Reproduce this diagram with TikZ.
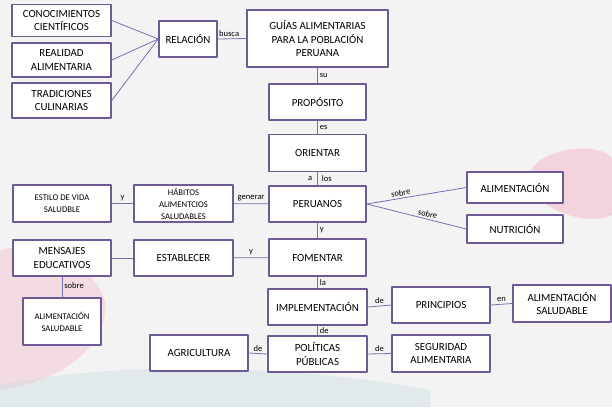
\documentclass[tikz,border=0pt]{standalone}
\usepackage{fontspec}
\setmainfont{Carlito}
\usepackage{xcolor}
\usetikzlibrary{positioning}

\definecolor{boxc}{HTML}{6E5A96}
\definecolor{linkc}{HTML}{7472A8}
\definecolor{bgc}{HTML}{F3F3F4}
\definecolor{pinkc}{HTML}{F4B9C9}
\definecolor{tealc}{HTML}{C6DADC}

\tikzset{
  box/.style={draw=boxc, line width=1.5pt, fill=white, align=center, inner sep=1pt,
    font=\fontsize{10.9}{13.5}\selectfont},
  smallbox/.style={box, font=\fontsize{8.7}{12}\selectfont},
  link/.style={draw=linkc, line width=0.8pt},
  lbl/.style={inner sep=2pt, font=\fontsize{8.5}{10}\selectfont}
}

\begin{document}
\begin{tikzpicture}[x=1pt,y=-1pt,line join=round]
\useasboundingbox (0,0) rectangle (612,407);
% background
\fill[bgc] (0,0) rectangle (612,407);
\fill[pinkc,opacity=0.55] (540,160) .. controls (575,140) and (612,150) .. (612,160)
  -- (612,215) .. controls (590,225) and (555,215) .. (535,195) .. controls (525,180) and (530,168) .. (540,160) -- cycle;
\fill[pinkc,opacity=0.4] (0,250) .. controls (40,240) and (90,260) .. (105,300)
  .. controls (110,340) and (70,380) .. (0,390) -- cycle;
\fill[tealc,opacity=0.4] (0,385) .. controls (120,360) and (300,365) .. (430,390)
  -- (430,407) -- (0,407) -- cycle;

% nodes
\node[box, minimum width=99, minimum height=32] (conoc) at (61.5,20.5) {CONOCIMIENTOS\\CIENTÍFICOS};
\node[box, minimum width=99, minimum height=34] (realidad) at (61.5,60) {REALIDAD\\ALIMENTARIA};
\node[box, minimum width=99, minimum height=35] (tradic) at (61.5,100.5) {TRADICIONES\\CULINARIAS};
\node[box, minimum width=58, minimum height=36] (relacion) at (188,39) {RELACIÓN};
\node[box, minimum width=141, minimum height=57] (guias) at (317.5,38.5) {GUÍAS ALIMENTARIAS\\PARA LA POBLACIÓN\\PERUANA};
\node[box, minimum width=97, minimum height=36] (proposito) at (317.5,102) {PROPÓSITO};
\node[box, minimum width=97, minimum height=37] (orientar) at (317.5,153) {ORIENTAR};
\node[box, minimum width=97, minimum height=36] (peruanos) at (317.5,204) {PERUANOS};
\node[box, minimum width=97, minimum height=37] (fomentar) at (317.5,257.5) {FOMENTAR};
\node[box, minimum width=99, minimum height=36] (implem) at (317.5,307) {IMPLEMENTACIÓN};
\node[box, minimum width=99, minimum height=36] (politicas) at (317.5,354) {POLÍTICAS\\PÚBLICAS};
\node[box, minimum width=98, minimum height=36] (principios) at (441,305) {PRINCIPIOS};
\node[box, minimum width=98, minimum height=37] (alimsalb) at (562,303.5) {ALIMENTACIÓN\\SALUDABLE};
\node[box, minimum width=98, minimum height=37] (seguridad) at (441,353.5) {SEGURIDAD\\ALIMENTARIA};
\node[box, minimum width=98, minimum height=36] (agricultura) at (199,353) {AGRICULTURA};
\node[smallbox, minimum width=78, minimum height=47] (alimsala) at (62,321.5) {ALIMENTACIÓN\\SALUDABLE};
\node[box, minimum width=98, minimum height=36] (mensajes) at (62,258) {MENSAJES\\EDUCATIVOS};
\node[box, minimum width=99, minimum height=36] (establecer) at (183.5,258) {ESTABLECER};
\node[smallbox, minimum width=98, minimum height=37] (estilo) at (62,203.5) {ESTILO DE VIDA\\SALUDBLE};
\node[smallbox, minimum width=99, minimum height=37] (habitos) at (183.5,203.5) {HÁBITOS\\ALIMENTCIOS\\SALUDABLES};
\node[box, minimum width=96, minimum height=31] (alimentacion) at (515,187.5) {ALIMENTACIÓN};
\node[box, minimum width=96, minimum height=28] (nutricion) at (515,229) {NUTRICIÓN};

% connectors
\draw[link] (conoc.east) -- (relacion.west);
\draw[link] (realidad.east) -- (relacion.west);
\draw[link] (tradic.east) -- (relacion.west);
\draw[link] (relacion.east) -- node[lbl, above, pos=0.4] {busca} (guias.west);
\draw[link] (guias) -- node[lbl, right] {su} (proposito);
\draw[link] (proposito) -- node[lbl, right] {es} (orientar);
\draw[link] (orientar) -- node[lbl, left, xshift=-3pt] {a} node[lbl, right, xshift=2pt] {los} (peruanos);
\draw[link] (peruanos) -- node[lbl, right] {y} (fomentar);
\draw[link] (fomentar) -- node[lbl, right] {la} (implem);
\draw[link] (implem) -- node[lbl, right] {de} (politicas);
\draw[link] (peruanos.east) -- node[lbl, above, sloped, pos=0.35] {sobre} (alimentacion.west);
\draw[link] (peruanos.east) -- node[lbl, above, sloped, pos=0.6] {sobre} (nutricion.west);
\draw[link] (habitos) -- node[lbl, above] {generar} (peruanos);
\draw[link] (estilo) -- node[lbl, above] {y} (habitos);
\draw[link] (establecer) -- node[lbl, above] {y} (fomentar);
\draw[link] (mensajes) -- (establecer);
\draw[link] (mensajes) -- node[lbl, right, pos=0.45] {sobre} (alimsala);
\draw[link] (implem.east) -- node[lbl, above] {de} (principios.west);
\draw[link] (principios.east) -- node[lbl, above] {en} (alimsalb.west);
\draw[link] (agricultura.east) -- node[lbl, above] {de} (politicas.west);
\draw[link] (politicas.east) -- node[lbl, above] {de} (seguridad.west);
\end{tikzpicture}
\end{document}
